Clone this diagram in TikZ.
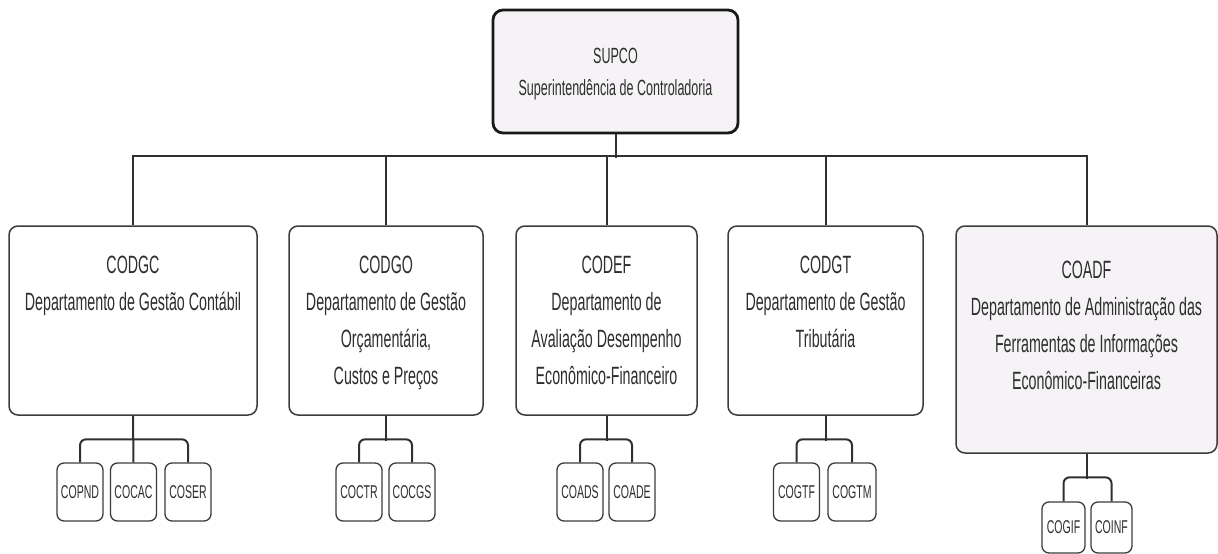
\documentclass[tikz,border=0pt]{standalone}
\usepackage{fontspec}
\newfontfamily\cf[FakeStretch=0.57]{Liberation Sans}
\definecolor{txt}{HTML}{2E2E2E}
\definecolor{edge}{HTML}{3C3C3C}
\definecolor{lite}{HTML}{F5F3F5}
\begin{document}
\begin{tikzpicture}[x=1pt,y=-1pt,
  conn/.style={draw=edge!80!black,line width=2pt},
  topbox/.style={draw=black!90,line width=2.8pt,fill=lite,rounded corners=10pt,inner sep=0pt},
  deptbox/.style={draw=edge,line width=1.5pt,fill=white,rounded corners=9pt,inner sep=0pt,minimum height=189pt},
  subbox/.style={draw=edge,line width=1.3pt,fill=white,rounded corners=7pt,inner sep=0pt,minimum width=46pt,minimum height=58pt,
    font=\cf\fontsize{18.5}{21}\selectfont,text=txt},
  depttext/.style={anchor=north,inner sep=0pt,align=center,text=txt,font=\cf\fontsize{25}{37}\selectfont},
  toptext/.style={anchor=north,inner sep=0pt,align=center,text=txt,font=\cf\fontsize{22}{32}\selectfont}]
\useasboundingbox (0,0) rectangle (1218,554);
\fill[white] (0,0) rectangle (1218,554);

% top
\node[topbox,minimum width=245pt,minimum height=123pt] (supco) at (615.5,71.5) {};
\node[toptext] (supcot) at (615.5,48) {SUPCO\\Superintendência de Controladoria};

% departments
\node[deptbox,minimum width=248pt] (codgc) at (133,320.5) {};
\node[deptbox,minimum width=194pt] (codgo) at (386,320.5) {};
\node[deptbox,minimum width=181pt] (codef) at (606.5,320.5) {};
\node[deptbox,minimum width=195pt] (codgt) at (825.5,320.5) {};
\node[deptbox,minimum width=261pt,minimum height=227pt,fill=lite] (coadf) at (1086.5,339.5) {};

\node[depttext] (codgct) at (133,256) {CODGC\\Departamento de Gestão Contábil};
\node[depttext] (codgot) at (386,256) {CODGO\\Departamento de Gestão\\Orçamentária,\\Custos e Preços};
\node[depttext] (codeft) at (606.5,256) {CODEF\\Departamento de\\Avaliação Desempenho\\Econômico-Financeiro};
\node[depttext] (codgtt) at (825.5,256) {CODGT\\Departamento de Gestão\\Tributária};
\node[depttext] (coadft) at (1086.5,261) {COADF\\Departamento de Administração das\\Ferramentas de Informações\\Econômico-Financeiras};

% sub units
\node[subbox] (copnd) at (80,492) {COPND};
\node[subbox] (cocac) at (133.5,492) {COCAC};
\node[subbox] (coser) at (188,492) {COSER};
\node[subbox] (coctr) at (359,492) {COCTR};
\node[subbox] (cocgs) at (412,492) {COCGS};
\node[subbox] (coads) at (580,492) {COADS};
\node[subbox] (coade) at (632,492) {COADE};
\node[subbox] (cogtf) at (796.5,492) {COGTF};
\node[subbox,minimum width=48pt] (cogtm) at (852,492) {COGTM};
\node[subbox,minimum width=43pt,minimum height=51pt] (cogif) at (1063.5,527.5) {COGIF};
\node[subbox,minimum width=41pt,minimum height=51pt] (coinf) at (1111.5,527.5) {COINF};

% main connectors
\draw[conn] (supco.south) -- ++(0,24);
\draw[conn] (codgc.north) -- ++(0,-69) -| (coadf.north);
\draw[conn] (codgo.north) -- ++(0,-69);
\draw[conn] (codef.north) -- ++(0,-69);
\draw[conn] (codgt.north) -- ++(0,-69);

% sub connectors
\draw[conn] (codgc.south) -- (cocac.north);
\draw[conn,rounded corners=6pt] (copnd.north) -- ++(0,-23) -| (coser.north);
\draw[conn] (codgo.south) -- ++(0,25);
\draw[conn,rounded corners=6pt] (coctr.north) -- ++(0,-23) -| (cocgs.north);
\draw[conn] (codef.south) -- ++(0,25);
\draw[conn,rounded corners=6pt] (coads.north) -- ++(0,-23) -| (coade.north);
\draw[conn] (codgt.south) -- ++(0,25);
\draw[conn,rounded corners=6pt] (cogtf.north) -- ++(0,-23) -| (cogtm.north);
\draw[conn] (coadf.south) -- ++(0,25);
\draw[conn,rounded corners=6pt] (cogif.north) -- ++(0,-24) -| (coinf.north);
\end{tikzpicture}
\end{document}
